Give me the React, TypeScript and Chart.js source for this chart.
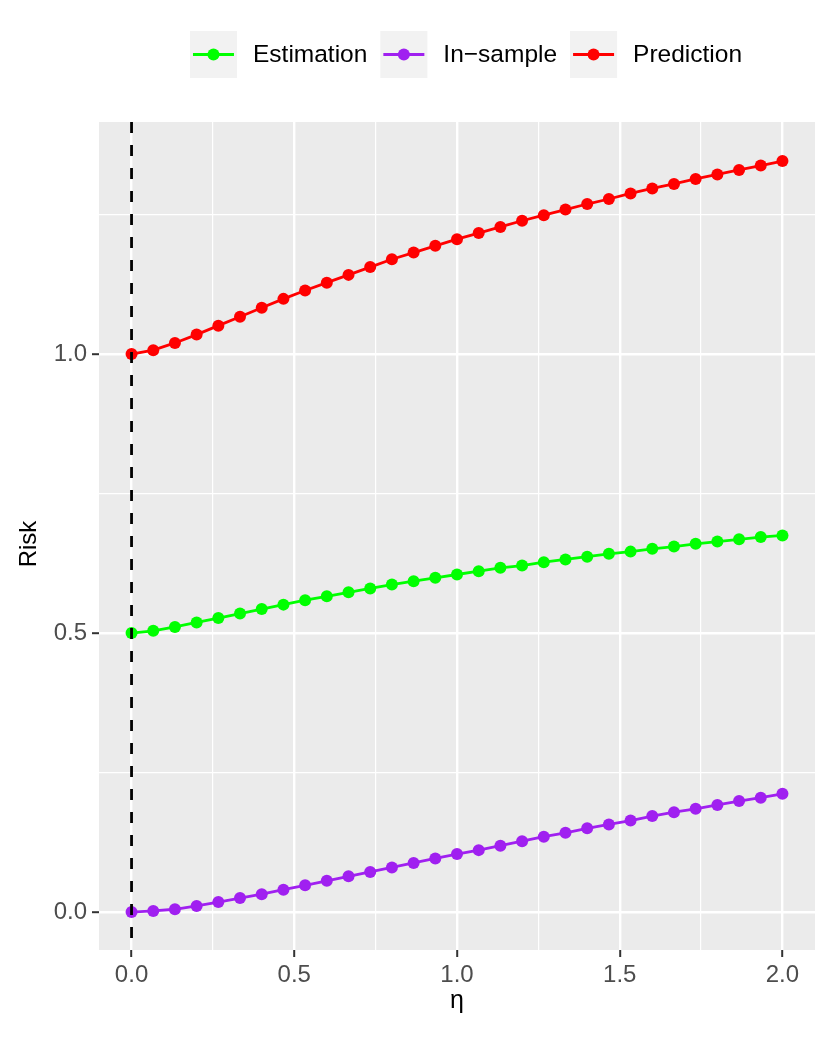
import React, { useEffect, useRef } from "react";
import { Chart, registerables } from "chart.js";

Chart.register(...registerables);

// ---- data ----
const eta = [
  0, 0.0667, 0.1333, 0.2, 0.2667, 0.3333, 0.4, 0.4667, 0.5333, 0.6, 0.6667,
  0.7333, 0.8, 0.8667, 0.9333, 1.0, 1.0667, 1.1333, 1.2, 1.2667, 1.3333, 1.4,
  1.4667, 1.5333, 1.6, 1.6667, 1.7333, 1.8, 1.8667, 1.9333, 2.0,
];
const estimation = [
  0.5, 0.504, 0.511, 0.519, 0.527, 0.535, 0.543, 0.551, 0.559, 0.566, 0.573,
  0.58, 0.587, 0.593, 0.599, 0.605, 0.611, 0.617, 0.621, 0.627, 0.632, 0.637,
  0.642, 0.646, 0.651, 0.655, 0.66, 0.664, 0.668, 0.672, 0.675,
];
const inSample = [
  0, 0.002, 0.005, 0.011, 0.018, 0.025, 0.032, 0.04, 0.048, 0.056, 0.064,
  0.072, 0.08, 0.088, 0.096, 0.104, 0.111, 0.119, 0.127, 0.135, 0.142, 0.15,
  0.157, 0.164, 0.172, 0.179, 0.185, 0.192, 0.199, 0.205, 0.212,
];
const prediction = [
  1.0, 1.007, 1.02, 1.035, 1.051, 1.067, 1.083, 1.099, 1.114, 1.128, 1.142,
  1.156, 1.17, 1.182, 1.194, 1.206, 1.217, 1.228, 1.239, 1.249, 1.259, 1.269,
  1.278, 1.288, 1.297, 1.305, 1.314, 1.322, 1.33, 1.338, 1.346,
];
const seriesNames = ["Estimation", "In\u2212sample", "Prediction"];
const seriesColors = ["#00FF00", "#A020F0", "#FF0000"];
const xMajorTicks = [0, 0.5, 1, 1.5, 2];
const xMinorTicks = [0.25, 0.75, 1.25, 1.75];
const yMajorTicks = [0, 0.5, 1];
const yMinorTicks = [0.25, 0.75, 1.25];
const xRange = [-0.1, 2.1];
const yRange = [-0.068, 1.416];
const vlineX = 0;
const xTitle = "\u03b7";
const yTitle = "Risk";

const FONT = "'Liberation Sans', Arial, Helvetica, sans-serif";

export default function App() {
  const ref = useRef<HTMLCanvasElement | null>(null);

  useEffect(() => {
    document.body.style.margin = "0";
    const canvas = ref.current;
    if (!canvas) return;

    const seriesValues = [estimation, inSample, prediction];

    const bgPlugin = {
      id: "ggBackground",
      beforeDraw(chart: any) {
        const { ctx, chartArea } = chart;
        ctx.save();
        ctx.fillStyle = "#FFFFFF";
        ctx.fillRect(0, 0, chart.width, chart.height);
        ctx.fillStyle = "#EBEBEB";
        ctx.fillRect(
          chartArea.left,
          chartArea.top,
          chartArea.right - chartArea.left,
          chartArea.bottom - chartArea.top
        );
        ctx.restore();
      },
    };

    const decorPlugin = {
      id: "ggDecor",
      afterDraw(chart: any) {
        const { ctx, chartArea } = chart;
        ctx.save();
        // axis titles
        ctx.fillStyle = "#000000";
        ctx.font = `25px ${FONT}`;
        ctx.textAlign = "center";
        ctx.textBaseline = "alphabetic";
        ctx.fillText(xTitle, (chartArea.left + chartArea.right) / 2, 1008);
        ctx.font = `24px ${FONT}`;
        ctx.save();
        ctx.translate(36, 544);
        ctx.rotate(-Math.PI / 2);
        ctx.fillText(yTitle, 0, 0);
        ctx.restore();

        // legend
        const keySize = 47;
        const textGap = 16;
        const itemGap = 13;
        ctx.font = `24.5px ${FONT}`;
        const widths = seriesNames.map((n) => ctx.measureText(n).width);
        let total = 0;
        widths.forEach((w, i) => {
          total += keySize + textGap + w + (i < widths.length - 1 ? itemGap : 0);
        });
        let x = 466 - total / 2;
        const keyTop = 31;
        const cy = keyTop + keySize / 2;
        seriesNames.forEach((name, i) => {
          ctx.fillStyle = "#F2F2F2";
          ctx.fillRect(x, keyTop, keySize, keySize);
          ctx.strokeStyle = seriesColors[i];
          ctx.lineWidth = 2.8;
          ctx.beginPath();
          ctx.moveTo(x + 3, cy);
          ctx.lineTo(x + keySize - 3, cy);
          ctx.stroke();
          ctx.fillStyle = seriesColors[i];
          ctx.beginPath();
          ctx.arc(x + keySize / 2, cy, 6, 0, Math.PI * 2);
          ctx.fill();
          ctx.fillStyle = "#000000";
          ctx.textAlign = "left";
          ctx.textBaseline = "middle";
          ctx.fillText(name, x + keySize + textGap, cy + 1);
          x += keySize + textGap + widths[i] + itemGap;
        });
        ctx.restore();
      },
    };

    const isIn = (arr: number[], v: number) =>
      arr.some((a) => Math.abs(a - v) < 1e-9);

    const datasets: any[] = [
      {
        label: "vline",
        data: [
          { x: vlineX, y: yRange[1] },
          { x: vlineX, y: yRange[0] },
        ],
        borderColor: "#000000",
        borderWidth: 2.8,
        borderDash: [11, 12],
        pointRadius: 0,
        fill: false,
        order: 0,
      },
      ...seriesNames.map((name, i) => ({
        label: name,
        data: eta.map((x, j) => ({ x, y: seriesValues[i][j] })),
        borderColor: seriesColors[i],
        backgroundColor: seriesColors[i],
        pointBackgroundColor: seriesColors[i],
        pointBorderWidth: 0,
        pointRadius: 6,
        borderWidth: 2.8,
        fill: false,
        tension: 0,
        order: 1,
      })),
    ];

    const chart = new Chart(canvas, {
      type: "line",
      data: { datasets },
      plugins: [bgPlugin, decorPlugin],
      options: {
        animation: false,
        responsive: false,
        devicePixelRatio: 1,
        layout: { padding: { top: 122, right: 15, left: 0, bottom: 0 } },
        plugins: {
          legend: { display: false },
          tooltip: { enabled: false },
          title: { display: false },
        },
        scales: {
          x: {
            type: "linear",
            min: xRange[0],
            max: xRange[1],
            afterBuildTicks: (s: any) => {
              s.ticks = [...xMajorTicks, ...xMinorTicks]
                .sort((a, b) => a - b)
                .map((v) => ({ value: v }));
            },
            afterFit: (s: any) => {
              s.height = 88;
            },
            ticks: {
              autoSkip: false,
              maxRotation: 0,
              padding: 4,
              color: "#4D4D4D",
              font: { family: FONT, size: 24 },
              callback: (v: any) =>
                isIn(xMajorTicks, Number(v)) ? Number(v).toFixed(1) : "",
            },
            grid: {
              color: "#FFFFFF",
              lineWidth: (c: any) =>
                c.tick && isIn(xMajorTicks, c.tick.value) ? 2.4 : 1.2,
              drawTicks: true,
              tickLength: 7,
              tickWidth: 2,
              tickColor: (c: any) =>
                c.tick && isIn(xMajorTicks, c.tick.value)
                  ? "#333333"
                  : "rgba(0,0,0,0)",
            },
            border: { display: false },
          },
          y: {
            type: "linear",
            min: yRange[0],
            max: yRange[1],
            afterBuildTicks: (s: any) => {
              s.ticks = [...yMajorTicks, ...yMinorTicks]
                .sort((a, b) => a - b)
                .map((v) => ({ value: v }));
            },
            afterFit: (s: any) => {
              s.width = 99;
            },
            ticks: {
              autoSkip: false,
              padding: 5,
              color: "#4D4D4D",
              font: { family: FONT, size: 24 },
              callback: (v: any) =>
                isIn(yMajorTicks, Number(v)) ? Number(v).toFixed(1) : "",
            },
            grid: {
              color: "#FFFFFF",
              lineWidth: (c: any) =>
                c.tick && isIn(yMajorTicks, c.tick.value) ? 2.4 : 1.2,
              drawTicks: true,
              tickLength: 7,
              tickWidth: 2,
              tickColor: (c: any) =>
                c.tick && isIn(yMajorTicks, c.tick.value)
                  ? "#333333"
                  : "rgba(0,0,0,0)",
            },
            border: { display: false },
          },
        },
      } as any,
    });

    return () => {
      chart.destroy();
    };
  }, []);

  return (
    <div style={{ width: 830, height: 1038, position: "relative" }}>
      <canvas
        ref={ref}
        width={830}
        height={1038}
        style={{ width: 830, height: 1038, display: "block" }}
      />
    </div>
  );
}
